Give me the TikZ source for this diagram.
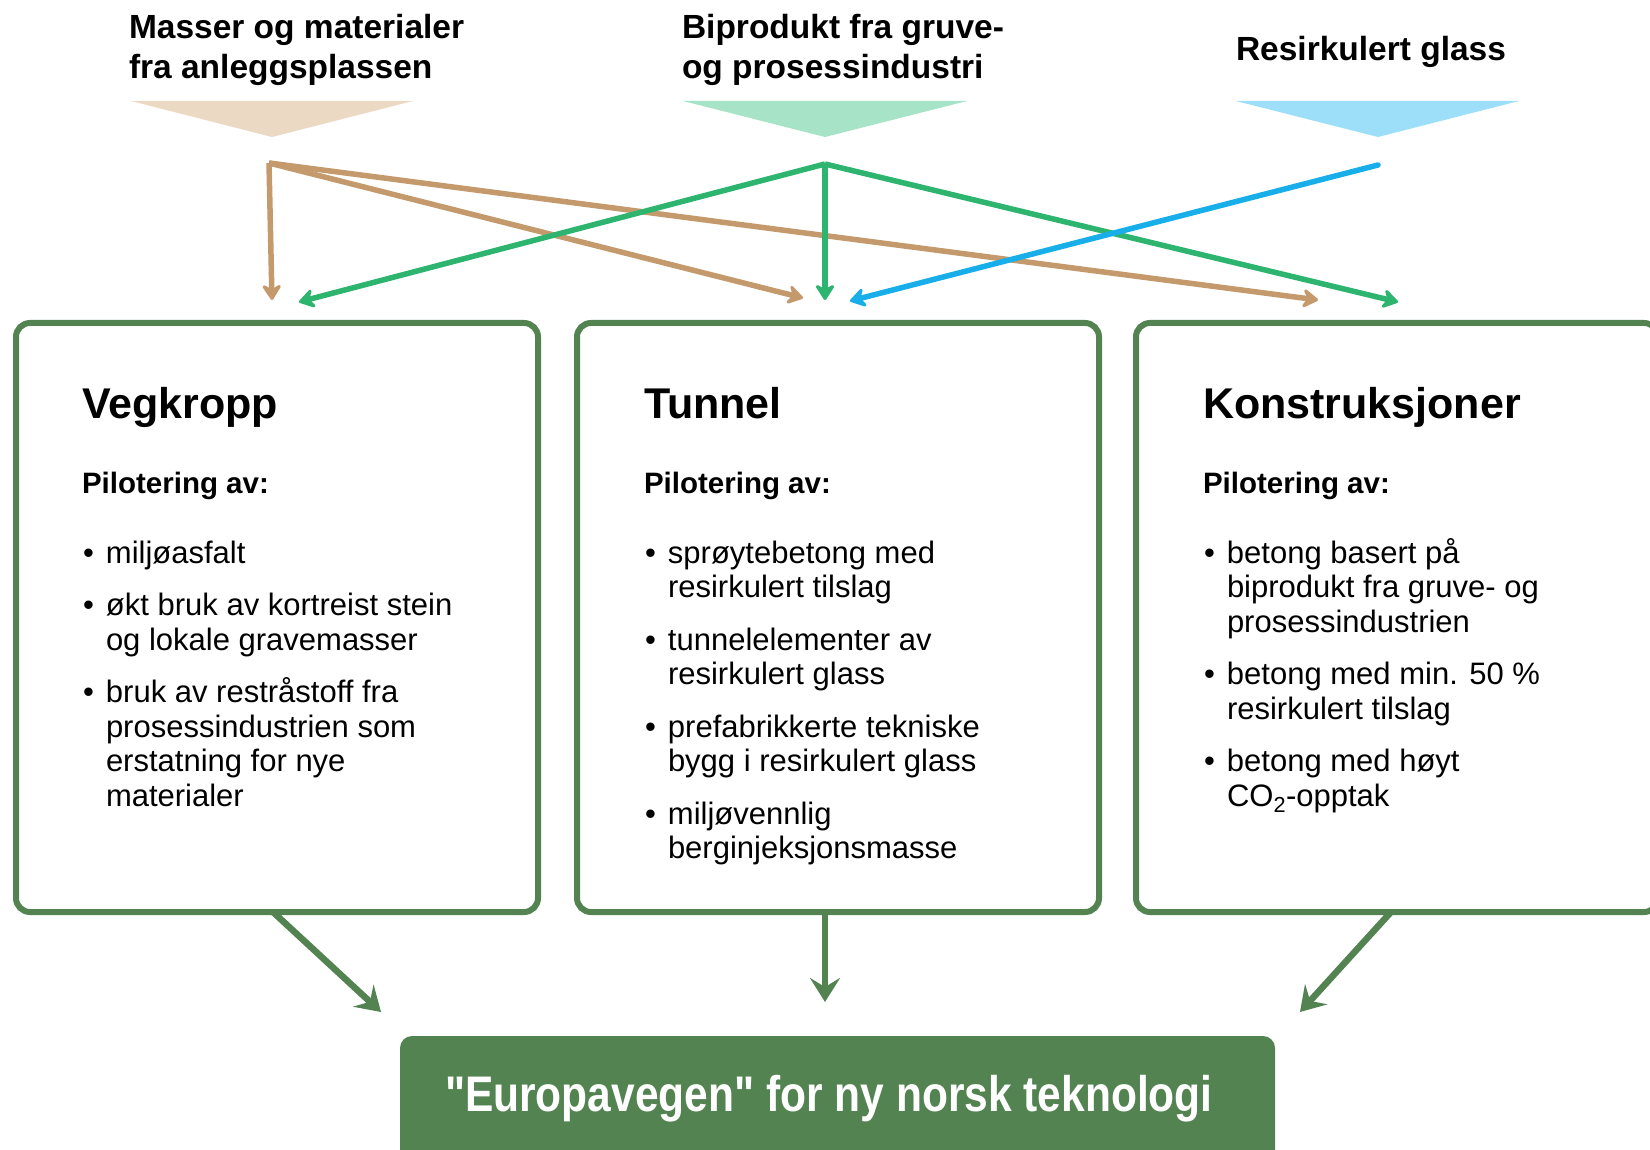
\documentclass[tikz,border=0pt]{standalone}
\usepackage{fontspec}
\setmainfont{Liberation Sans}
\newfontfamily\narrowfont[FakeStretch=0.85]{Liberation Sans}
\usetikzlibrary{arrows.meta,calc}
\definecolor{cbrown}{HTML}{C49A6C}
\definecolor{cgreen}{HTML}{2DB46E}
\definecolor{cblue}{HTML}{17AEEA}
\definecolor{boxgreen}{HTML}{548352}
\definecolor{tribrown}{HTML}{EBD9C4}
\definecolor{trigreen}{HTML}{A6E3C7}
\definecolor{triblue}{HTML}{9DDFF8}
\newcommand\topfont{\fontsize{33.5}{40}\selectfont\bfseries}
\newcommand\headfont{\fontsize{43}{50}\selectfont\bfseries}
\newcommand\subfont{\fontsize{29.5}{34}\selectfont\bfseries}
\newcommand\bodyfont{\fontsize{31}{34.5}\selectfont}
\newcommand\bitem[1]{\par\noindent\hangindent=24pt\hangafter=1\makebox[24pt][l]{\hspace{1pt}•}#1}
\newcommand\bodylist[1]{\parbox[t]{460pt}{\bodyfont\setlength\parskip{18pt}#1}}
\tikzset{
  txt/.style={anchor=base west, inner sep=0pt, outer sep=0pt},
  flow/.style={line width=5.5pt, -{Stealth[length=19pt,width=24pt,inset=7pt,round]}},
  outflow/.style={line width=6.5pt, draw=boxgreen, -{Stealth[length=24pt,width=30pt,inset=9pt]}},
  panel/.style={draw=boxgreen, line width=6pt, rounded corners=14pt, fill=white,
    minimum width=522pt, minimum height=589pt, anchor=north west, inner sep=0pt, outer sep=0pt},
  goal/.style={fill=boxgreen, rounded corners=12pt, minimum width=875pt,
    minimum height=160pt, anchor=north west, inner sep=0pt, outer sep=0pt}
}
\begin{document}
\begin{tikzpicture}[x=1pt,y=-1pt]
\useasboundingbox (0,0) rectangle (1650,1150);
\clip (0,0) rectangle (1650,1150);
\fill[white] (0,0) rectangle (1650,1150);

% source labels
\node[txt] (lab1) at (129,39) {\parbox[t]{420pt}{\topfont Masser og materialer\\fra anleggsplassen}};
\node[txt] (lab2) at (682,39) {\parbox[t]{420pt}{\topfont Biprodukt fra gruve-\\og prosessindustri}};
\node[txt] (lab3) at (1236,61) {\topfont Resirkulert glass};

% triangles
\fill[tribrown] (131,101) -- (413,101) -- (272,137) -- cycle;
\fill[trigreen] (683,101) -- (967,101) -- (825,137) -- cycle;
\fill[triblue] (1236,101) -- (1519,101) -- (1378,137) -- cycle;

% panels
\node[panel] (b1) at (16,323) {};
\node[panel] (b2) at (577,323) {};
\node[panel] (b3) at (1136,323) {};

% source points and targets
\coordinate (s1) at (269,163);
\coordinate (s2) at (825,164);
\coordinate (s3) at (1378,165);
\coordinate (t1a) at (272,300);
\coordinate (t1b) at (299,302);
\coordinate (t2a) at (803,298);
\coordinate (t2b) at (825,300);
\coordinate (t2c) at (850,301);
\coordinate (t3a) at (1318,300);
\coordinate (t3b) at (1398,302);

\draw[flow, cbrown] (s1) -- (t1a);
\draw[flow, cbrown] (s1) -- (t2a);
\draw[flow, cbrown] (s1) -- (t3a);
\draw[flow, cgreen] (s2) -- (t1b);
\draw[flow, cgreen] (s2) -- (t2b);
\draw[flow, cgreen] (s2) -- (t3b);
\draw[flow, cblue, line cap=round] (s3) -- (t2c);

% panel 1
\node[txt] (h1) at (82,418) {\headfont Vegkropp};
\node[txt] (p1) at (82,493) {\subfont Pilotering av:};
\node[txt] (l1) at (82,563) {\bodylist{%
\bitem{miljøasfalt}
\bitem{økt bruk av kortreist stein\newline og lokale gravemasser}
\bitem{bruk av restråstoff fra\newline prosessindustrien som\newline erstatning for nye\newline materialer}}};

% panel 2
\node[txt] (h2) at (644,418) {\headfont Tunnel};
\node[txt] (p2) at (644,493) {\subfont Pilotering av:};
\node[txt] (l2) at (644,563) {\bodylist{%
\bitem{sprøytebetong med\newline resirkulert tilslag}
\bitem{tunnelelementer av\newline resirkulert glass}
\bitem{prefabrikkerte tekniske\newline bygg i resirkulert glass}
\bitem{miljøvennlig\newline berginjeksjonsmasse}}};

% panel 3
\node[txt] (h3) at (1203,418) {\headfont Konstruksjoner};
\node[txt] (p3) at (1203,493) {\subfont Pilotering av:};
\node[txt] (l3) at (1203,563) {\bodylist{%
\bitem{betong basert på\newline biprodukt fra gruve- og\newline prosessindustrien}
\bitem{betong med min. 50 \%\newline resirkulert tilslag}
\bitem{betong med høyt\newline CO\textsubscript{2}-opptak}}};

% goal
\node[goal] (goal) at (400,1036) {};
\node[txt, text=white] (goaltxt) at (445,1111) {\narrowfont\fontsize{50}{56}\selectfont\bfseries "Europavegen" for ny norsk teknologi};

\coordinate (g1) at (381,1012);
\coordinate (g2) at (825,1002);
\coordinate (g3) at (1300,1012);
\draw[outflow] ([xshift=-4pt]b1.south) -- (g1);
\draw[outflow] ([xshift=-13pt]b2.south) -- (g2);
\draw[outflow] ([xshift=-6pt]b3.south) -- (g3);
\end{tikzpicture}
\end{document}
